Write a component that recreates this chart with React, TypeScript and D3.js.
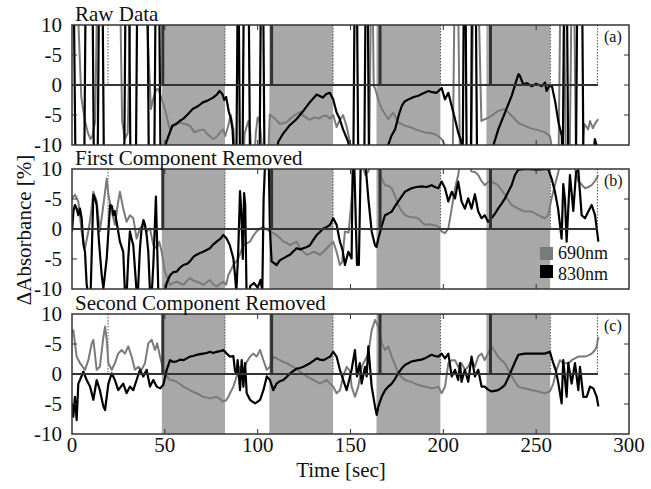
import React from "react";
import * as d3 from "d3";

type P = [number, number];

// Stimulation periods (sec)
const stimStarts = [48.4, 106.3, 164.0, 223.2];
const stimEnds = [82.4, 140.6, 198.4, 257.5];
const markerTimes = [48.9, 107.5, 165.9, 225.4];
const dottedTimes = [19.4, 82.4, 140.6, 198.5, 257.7, 283.0];
const zeroEnd = 283.3;

const yTickValues = [10, 5, 0, -5, -10];
const yTickLabels = ["10", "-5", "0", "-5", "-10"];
const xTickValues = [0, 50, 100, 150, 200, 250, 300];
const panelTitles = ["Raw Data", "First Component Removed", "Second Component Removed"];
const panelTags = ["(a)", "(b)", "(c)"];
const legendLabels = ["690nm", "830nm"];

// Panel (a) Raw data
const rawBlack830: P[] = [[0,14],[1.0,14],[1.9,-14],[6.6,-14],[7.3,14],[11.1,14],[11.8,-14],[13.8,-14],[14.5,14],[16.5,14],[17.2,-14],[28.1,-14],[28.8,14],[30.8,14],[31.5,-14],[34.4,-14],[35.1,14],[40.7,14],[41.4,-14],[44.3,-14],[45.0,14],[47.0,14],[47.7,-14],[49.5,-14],[50.7,-9.6],[52,-8.5],[54,-6.8],[56,-6.5],[58,-6.0],[60,-5.6],[62,-5.0],[65,-4.0],[68,-3.5],[70.5,-2.9],[73,-2.6],[76,-2.1],[78,-1.6],[79.5,-1.0],[81,-1.5],[82,-2.5],[83,-2.0],[84.5,-4.5],[85.5,-5.5],[86.5,-7.5],[87.5,-14],[88.5,-14],[89.2,14],[89.8,14],[90.5,-14],[91.8,-14],[92.5,14],[95.2,14],[95.9,-14],[101,-14],[101.7,14],[103,14],[103.7,-14],[110,-14],[111,-9.5],[113.5,-8.2],[117,-6.8],[120.9,-5.7],[124.6,-4.3],[128,-2.9],[131.8,-1.6],[135,-2.1],[137,-1.5],[138.9,-1.3],[140.7,-2.4],[142.5,-4.6],[144,-5.5],[146,-7.4],[148.8,-9.5],[150,-14],[151.5,-14],[152.2,14],[153.5,14],[154.2,-14],[157.4,-14],[158.1,14],[159.3,14],[160,-14],[169,-14],[170.3,-10],[172,-8.5],[174,-7.4],[176,-5],[177.6,-3.5],[179,-2.8],[181.2,-2.4],[184,-2.0],[186.6,-1.8],[189,-1.4],[192,-1.0],[194,-1.2],[196.4,-1.3],[199.1,-0.5],[200.9,-2.4],[202.7,-1.3],[204.5,-3.5],[206.3,-5.7],[208,-7.9],[209.8,-9.6],[210.4,-14],[211,14],[212,14],[212.6,-14],[214.8,-14],[215.4,14],[217.5,14],[218.2,-14],[226,-14],[227,-10],[229.6,-7.4],[233.2,-4.6],[236.8,-1.8],[239.5,0.9],[240.5,1.8],[241.3,1.5],[243,0.1],[245,0.3],[247.6,-0.2],[250,0.2],[253,-0.2],[254.8,0.4],[255.6,-1.0],[257,-0.2],[258.5,-0.2],[260.3,-2.9],[262,-6.2],[263.8,-8.5],[264.3,-14],[265,14],[266.6,14],[267.3,-14],[271.4,-14],[272.1,14],[274.8,14],[275.5,-14],[280,-14],[281.6,-9],[283,-10.5]];
const rawGrey690: P[] = [[0,14],[3,14],[5,-2],[7,-6],[8.6,-8],[10,-9],[11,-8.5],[12.5,-6],[13.5,14],[26,14],[27,-6],[28.5,-9],[30,-8],[31.5,14],[40,14],[42.5,-4],[44,-2],[45.5,-0.7],[46.5,-0.7],[48,-2],[50,-4],[52.7,-7.4],[55,-6.8],[58,-6.3],[61,-6.5],[63.5,-6.8],[66,-7.9],[68,-7.6],[70.7,-7.4],[73,-8.2],[76,-9.0],[78,-8.6],[80,-7.8],[81.5,-7.4],[82.5,-8.5],[84,-7],[85.5,-5],[87,-7.5],[88,-14],[92,-14],[93,-8],[95,-6],[96,-8],[97,-14],[98,-14],[99,-8],[100,-5.4],[101,-6],[102,-9],[103,-14],[105.5,-14],[106.5,-4.9],[108,-5.3],[110,-5.8],[112,-6.5],[115.6,-6.2],[118,-5.5],[120,-5.0],[122.8,-4.5],[125,-5.2],[128,-5.8],[130.6,-5.4],[133,-5.6],[135,-5.2],[137,-5.1],[139,-5.6],[140.7,-5.0],[142.5,-7],[144,-6],[146,-5],[148,-7],[150,-10],[151,-14],[158,-14],[160,-14],[161,14],[162,14],[162.5,-0.2],[163.2,-0.5],[165,-2.5],[166.8,-4],[168.5,-4.8],[170.3,-5.7],[173,-4.6],[175.7,-6.2],[179.3,-6.8],[182,-7.0],[184.8,-7.4],[187,-7.6],[190.2,-7.9],[193,-8.0],[195.6,-8.2],[197,-8.5],[199.1,-9.0],[200.5,-9.8],[201,-14],[205,-14],[206,14],[208,14],[209,-14],[215,-14],[216,14],[219,14],[220.5,-6],[222.3,-5.7],[224,-5.5],[226,-5.1],[229.6,-4.3],[233.2,-4.0],[235,-4.6],[236.8,-5.1],[240.4,-6.3],[244,-6.8],[247,-7.2],[249.3,-7.4],[252,-7.6],[254.7,-7.9],[257.4,-8.5],[258.5,-10.5],[259,-14],[262,-14],[263,14],[265,14],[266,-14],[268,-14],[269,14],[270.5,14],[271.5,-14],[274,-14],[276,-6.5],[278,-7.4],[279,-6],[280.5,-7.2],[282,-6.3],[283.4,-5.7]];

// Panel (b) First component removed
const firstBlack830: P[] = [[0,-0.4],[0.8,3],[1.6,4],[2.5,3.4],[3.4,2.3],[4.3,3.4],[5.2,1.8],[6.1,-2.5],[7,-3.8],[7.9,-9.3],[8.8,-11],[10,-11],[11.5,5.7],[12.5,5],[13.3,4],[14.5,-2],[16,-7.7],[16.9,-9.9],[18.7,-4.9],[20.5,4],[21.5,3.8],[22.3,2.3],[23,3.0],[24,1.2],[25.8,-2.1],[27.6,-3.8],[28.5,-10.5],[29.5,-10.5],[30.3,-4.9],[31.2,-0.4],[32,-1.5],[33,-2.7],[34.8,-10.5],[35.5,-10.5],[36.6,-3.2],[37.5,0.1],[38.5,1.5],[39.3,0.7],[40.2,-1],[41.1,-3.8],[42,-10.5],[43,-10.5],[43.8,-6],[45.2,5.4],[46.5,-10.5],[50,-10.5],[51,-9],[52.8,-7.7],[54.5,-7.2],[56.4,-7.1],[58,-6.5],[60,-6],[62,-5.8],[63.5,-5.4],[65.5,-4.6],[67.1,-4.3],[69,-4.0],[70.7,-3.8],[72.5,-3.5],[74.3,-3.2],[76,-2.6],[77.9,-2.1],[80,-1.6],[81.5,-1],[83.3,-1.6],[85,-2.7],[86.9,-4.9],[87.8,-7.7],[88.5,-10.5],[89.5,-4],[90.5,6.3],[91.2,3],[92,-5],[92.7,6],[93.3,4],[94,-10.5],[95.5,-10.5],[96,-9.5],[98,-9],[100,-9.8],[101.5,-8.5],[102.5,-10.2],[103.2,5],[104,11],[106,11],[106.6,0],[107.5,-5.4],[110.2,-6],[112,-5.2],[113.8,-4.9],[115.5,-4.6],[117.4,-4.3],[119,-3.8],[121,-3.2],[122.8,-3.4],[124.6,-3.2],[126.5,-3.0],[128.2,-2.7],[130,-1.8],[131.8,-1],[133.5,-0.5],[135.4,0.1],[137,0.3],[139,0.7],[140.7,1.8],[142.5,0.7],[144.3,-2.1],[145.7,-3.5],[147,-6],[148.8,-3.8],[150.6,-4.9],[151.2,11],[152,11],[153.5,-6],[154.5,-6],[155.5,11],[158,11],[159.6,5.1],[161.4,-0.4],[163.2,-2.7],[164,-3],[165,-1.6],[166.8,0.5],[168.6,2.3],[170.5,2.6],[172.2,2.9],[174,3.8],[175.7,4.6],[177.5,5.4],[179.3,6.2],[181,6.5],[182.9,6.8],[185.5,7.0],[188.3,7.1],[191,7.0],[193.7,7.3],[195.5,7.0],[197.3,6.8],[199.1,7.9],[200.9,6.8],[202.7,4.6],[204.5,6.2],[206.3,5.1],[208,7.9],[209.8,4.6],[211.6,3.4],[213.4,5.1],[215.2,3.4],[217,5.8],[218.8,2.9],[220.6,1.8],[222.3,2.3],[224.1,1.2],[225.9,1.8],[227.7,2.5],[229.5,3.4],[231.3,4.2],[233.2,5.1],[235,6.2],[236.8,7.3],[238.6,9],[240.4,9.9],[245,10],[250,9.9],[256.5,10],[258.3,8.4],[260.1,6.2],[261.8,3.4],[263.7,-1.6],[264.6,7.5],[265.5,5],[266.4,-2.1],[268.2,9],[270,3],[271.5,9.5],[272.7,9.8],[274.5,2.3],[276.3,1.8],[278.1,2.9],[279.9,4],[281.7,2.3],[283.5,-2.1]];
const firstGrey690: P[] = [[0,5.1],[1.6,5.7],[3.4,4.6],[5.2,-0.4],[7,-3.2],[8.8,-0.4],[10,2],[11.5,6.2],[13.3,4.6],[15,-0.4],[16.9,4],[18.7,8.4],[19.6,5.7],[21.4,2.9],[23.1,0.7],[24.9,4.6],[25.8,6.2],[27.6,3.4],[29.4,1.2],[31.2,2.3],[33,1.8],[34.8,-1.6],[36.6,0.1],[38.4,0.7],[40.2,-0.4],[42,0.1],[43.8,-2.7],[45.6,-3.2],[47,-2.1],[48.3,-3.8],[50,-7.1],[52.8,-9.3],[54.5,-9.0],[56.4,-8.8],[58,-9.0],[60,-9.3],[62,-8.6],[63.5,-8.2],[65.5,-8.6],[67.1,-8.8],[69,-9.0],[70.7,-9.3],[72.5,-8.9],[74.3,-8.5],[76,-9.2],[77.9,-9.6],[79.5,-9.2],[81.5,-8.8],[83,-9.3],[84.2,-7.7],[86.9,-6],[89.6,-4.9],[92.3,-2.7],[94,-2.4],[95.9,-2.1],[97.5,-1.2],[99.4,-0.4],[101.3,0.1],[103,0.3],[104.5,0],[106.6,-0.4],[108.4,-0.7],[110.2,-1],[112,-1.5],[113.8,-2.1],[115.6,-2.3],[117.4,-2.7],[119.2,-2.4],[121,-2.1],[122.8,-3.2],[124.6,-3.8],[126.4,-4.3],[128.2,-4.1],[130,-3.8],[131.8,-4.0],[133.6,-4.3],[135.4,-3.8],[137.2,-3.2],[139,-2.6],[140.7,-2.1],[142.5,-3.8],[144.3,-6],[145.5,-5.5],[147,-0.4],[149,-0.6],[150.6,5.1],[152,11],[156,11],[158,9],[159.6,9.6],[161,11],[165,11],[166.8,8.4],[168.6,7.3],[170.4,7.2],[172.2,6.8],[174,5.5],[175.7,4],[177.5,3.0],[179.3,2.3],[181,2.1],[182.9,2],[184.6,1.9],[186.4,1.8],[188.2,1.2],[190,0.7],[191.8,0.8],[193.7,0.7],[195.5,0.6],[197.3,0.4],[199.1,-0.4],[200.9,-0.7],[202.7,0.1],[204.5,3.4],[206.3,6.8],[208,9],[209,11],[213,11],[215.2,9.6],[217,9.5],[218.8,9],[220.5,8.0],[222.3,7.3],[224,7.8],[225.9,7.9],[227.7,7.6],[229.5,7.3],[231.3,6.5],[233.2,5.7],[235,4.8],[236.8,4],[238.6,3.7],[240.4,3.4],[242.2,3.1],[244,2.9],[245.8,2.9],[247.6,2.9],[249.4,2.6],[251.2,2.3],[253,2.0],[254.7,1.8],[256.5,2.3],[258.3,5.1],[260.1,7.3],[262,9.6],[263,11],[270,11],[272.7,7.9],[274.5,7.4],[276.3,6.8],[278.1,7.0],[279.9,7.3],[281.7,8.0],[283.5,9]];

// Panel (c) Second component removed
const secondBlack830: P[] = [[0,-4.9],[0.7,-7.1],[1.6,-3.8],[2.5,-7.7],[3.4,-1.6],[4.3,-1],[6.1,0.4],[7.9,-1],[9.7,-2.1],[11.5,-4.3],[13.3,-1],[15,-2.7],[16.9,-5.4],[17.8,-6],[19.6,-1.6],[21.4,0.1],[23.1,-1],[24.9,-2.7],[27.6,-1.6],[29.4,-3.2],[31.2,-2.1],[33,-2.7],[34.8,-1],[36.6,0.7],[38.4,-0.4],[40.2,0.7],[42,-2.1],[43.8,-1],[45.6,-2.1],[47.4,-2.4],[49.2,-1.8],[51,0.7],[52.8,2.3],[54.6,2.0],[56.4,2.1],[58.2,2.4],[60,2.3],[61.8,2.6],[63.5,2.9],[65.3,3.0],[67.1,3.2],[68.9,3.3],[70.7,3.4],[72.5,3.5],[74.3,3.7],[76.1,3.5],[77.9,3.7],[79.7,3.8],[81.5,4],[83.3,3.4],[85.1,2.9],[86.9,3.0],[87.8,0.5],[88.7,0.1],[89.2,2.3],[90.5,-2.7],[91.4,2.3],[92.3,-2.1],[93.2,1.8],[94.1,-3.2],[95.9,-4.3],[97.2,-4.6],[98.6,-4.9],[100,-4.6],[101.3,-4.3],[103.1,-2.7],[104.9,-0.4],[106.6,-1],[108.4,-2.7],[110.2,-1.6],[112,-1.2],[113.8,-1],[115.6,-0.5],[117.4,0.1],[119.2,0.5],[121,0.9],[122.8,1.0],[124.6,1.2],[126.4,1.5],[128.2,1.8],[130,2.2],[131.8,2.6],[133.6,2.4],[135.4,2.3],[137.2,2.6],[139,2.9],[140.7,3.7],[142.5,2.9],[144.3,0.7],[146.1,-1],[147.9,-2.7],[149.7,-0.5],[150.6,0.7],[152.4,4],[153.5,-0.4],[155,1.8],[156,-1.6],[157.8,1.2],[158.7,-0.4],[159.6,4.6],[161.4,-2.1],[163.2,-5.4],[164.1,-6.8],[165,-5.4],[166.8,-3.8],[168.6,-2.7],[170.4,-2.1],[172.2,-1.6],[174,-0.8],[175.7,0.1],[177.5,0.9],[179.3,1.5],[181.1,1.8],[182.9,2.1],[184.6,2.2],[186.4,2.3],[188.2,2.4],[190,2.6],[191.8,2.9],[193.7,3.2],[195.5,3.0],[197.3,2.9],[199.1,3.4],[200.9,2.6],[202.7,3.4],[204.5,-0.4],[206.3,0.7],[208,-1],[209,1.8],[209.8,-1.3],[211.6,0.7],[213.4,-1.3],[215.2,2.9],[217,-0.4],[218.8,0.7],[220.6,-2.1],[222.3,-2.1],[224.1,-2.6],[225.9,-2.9],[227.7,-2.8],[229.5,-2.7],[231.3,-2.3],[233.2,-1.8],[235,-0.6],[236.8,0.7],[238.6,2.0],[240.4,3.2],[242.2,3.3],[244,3.4],[247.6,3.4],[251.2,3.4],[254.7,3.4],[257.4,3.7],[259.2,1.8],[260.5,0.7],[262,-1.6],[263.7,-4.9],[264.6,2.3],[266.4,-3.8],[267.3,1.8],[269.1,-1.6],[270.9,1.8],[272.7,-2.7],[273.6,1.2],[275.4,-3.8],[277.2,-3.8],[279,-2.1],[280.8,-2.4],[282.6,-3.8],[283.5,-5.4]];
const secondGrey690: P[] = [[0,6.8],[0.7,7.3],[2.5,2.9],[4.3,1.8],[7,0.7],[8.8,2.3],[10.6,5.1],[11.5,5.7],[13.3,0.7],[15,1.2],[16.9,6.2],[17.8,7.9],[18.7,5.7],[19.6,1.8],[21.4,0.7],[23.1,1.8],[24.9,3.4],[26.7,4],[28.5,3.4],[30.3,4.6],[32.1,2.9],[33.9,0.7],[35.7,1.2],[37.5,0.7],[39.3,1.8],[41.1,5.1],[42.9,5.7],[44.7,4],[45.9,5.1],[47.4,2.9],[49.2,0.7],[51,-0.4],[52.8,-1],[54.6,-1.1],[56.4,-1.3],[58.2,-1.7],[60,-2.1],[61.8,-2.4],[63.5,-2.7],[65.3,-3.0],[67.1,-3.2],[68.9,-3.5],[70.7,-3.8],[72.5,-3.9],[74.3,-4.1],[76.1,-3.9],[77.9,-3.8],[79.7,-4.2],[81.5,-4.6],[83,-4.4],[84.2,-3.8],[86.9,-2.1],[88.7,-0.4],[90.5,1.2],[92.3,0.7],[94.1,2.0],[95.9,2.9],[97.6,3.4],[99.4,2.9],[101.3,4],[103.1,2.3],[104.9,0.7],[106.6,1.2],[108.4,2.9],[110.2,2.6],[112,2.3],[113.8,2.0],[115.6,1.8],[117.4,1.5],[119.2,1.2],[121,0.8],[122.8,0.4],[124.6,0],[126.4,-0.4],[128.2,-0.7],[130,-1],[131.8,-1.3],[133.6,-1.6],[135.4,-1.3],[137.2,-1],[139,-1.6],[140.7,-2.1],[142.5,-3.2],[144.3,-2.7],[146.1,-0.4],[147.9,1.2],[149.7,0.5],[150.6,-2.1],[152.4,-3.8],[154.2,-2.1],[156,1.2],[157.8,2.3],[159.6,3.4],[161.4,7.3],[163.2,9],[165,7.9],[166.8,5.1],[168.6,4],[170.3,4.6],[172.2,2.9],[174,1.5],[175.7,0.1],[177.5,-0.5],[179.3,-1],[181.1,-1.2],[182.9,-1.3],[184.6,-1.6],[186.4,-1.8],[188.2,-2.0],[190,-2.1],[191.8,-2.2],[193.7,-2.4],[195.5,-2.3],[197.3,-2.1],[199.1,-3.2],[200.9,-2.1],[202.7,1.8],[204.5,2.3],[206.3,2.3],[208,1.2],[209.8,1.8],[211.6,0.7],[213.4,1.2],[215.2,2.3],[217,1.2],[218.8,2.9],[220.6,3.4],[222.3,2.3],[224.1,3.5],[225.9,4.6],[227.7,3.8],[229.5,2.9],[231.3,2.3],[233.2,1.8],[235,0.7],[236.8,-0.4],[238.6,-1.3],[240.4,-2.1],[242.2,-2.3],[244,-2.4],[245.8,-2.5],[247.6,-2.7],[249.4,-2.8],[251.2,-2.9],[253,-3.1],[254.7,-3.2],[257.4,-2.9],[259.2,-1.6],[261,0.7],[262.8,2.3],[264.6,1.8],[266.4,1.8],[268.2,2.0],[269.1,2.3],[270.9,2.6],[272.7,2.9],[274.5,2.9],[276.3,2.9],[278.1,3.1],[279.9,3.4],[281.7,4.0],[282.6,4.6],[283.5,6.2]];

const panelSeries = [
  { grey: rawGrey690, black: rawBlack830 },
  { grey: firstGrey690, black: firstBlack830 },
  { grey: secondGrey690, black: secondBlack830 },
];

const W = 651, H = 489;
const left = 72, right = 629;
const panelTops = [25, 169, 314];
const panelH = 120;
const SHADE = "#a8a8a8";
const GREY_LINE = "#7a7a7a";
const DARK = "#333333";
const txt = { fontFamily: '"Liberation Serif"' };

export default function App() {
  const x = d3.scaleLinear().domain([0, 300]).range([left, right]);
  return (
    <svg width={W} height={H} style={{ position: "absolute", left: 0, top: 0, background: "#fff" }}>
      <defs>
        {panelTops.map((top, i) => (
          <clipPath id={`clip${i}`} key={i}>
            <rect x={left} y={top} width={right - left} height={panelH} />
          </clipPath>
        ))}
      </defs>
      {panelTops.map((top, i) => {
        const y = d3.scaleLinear().domain([-10, 10]).range([top + panelH, top]);
        const line = d3.line<P>().x((d) => x(d[0])).y((d) => y(d[1]));
        const s = panelSeries[i];
        return (
          <g key={i}>
            <g clipPath={`url(#clip${i})`}>
              {stimStarts.map((st, k) => (
                <rect key={k} x={x(st)} y={top} width={x(stimEnds[k]) - x(st)} height={panelH} fill={SHADE} />
              ))}
              {dottedTimes.map((t, k) => (
                <line key={k} x1={x(t)} x2={x(t)} y1={top} y2={y(0)} stroke="#555" strokeWidth={1} strokeDasharray="1.5,1.5" />
              ))}
              <path d={line(s.grey) || ""} fill="none" stroke={GREY_LINE} strokeWidth={2} strokeLinejoin="round" />
              <path d={line(s.black) || ""} fill="none" stroke="#000" strokeWidth={2.2} strokeLinejoin="round" />
              <line x1={left} x2={x(zeroEnd)} y1={y(0)} y2={y(0)} stroke={DARK} strokeWidth={2} />
              {markerTimes.map((t, k) => (
                <line key={k} x1={x(t)} x2={x(t)} y1={top} y2={y(0)} stroke={DARK} strokeWidth={3} />
              ))}
            </g>
            {yTickValues.slice(1, 4).map((v, k) => (
              <g key={k}>
                <line x1={left} x2={left + 5} y1={y(v)} y2={y(v)} stroke={DARK} strokeWidth={1} />
                <line x1={right - 5} x2={right} y1={y(v)} y2={y(v)} stroke={DARK} strokeWidth={1} />
              </g>
            ))}
            {xTickValues.slice(1, 6).map((v, k) => (
              <g key={k}>
                <line x1={x(v)} x2={x(v)} y1={top} y2={top + 5} stroke={DARK} strokeWidth={1} />
                <line x1={x(v)} x2={x(v)} y1={top + panelH - 5} y2={top + panelH} stroke={DARK} strokeWidth={1} />
              </g>
            ))}
            <rect x={left} y={top} width={right - left} height={panelH} fill="none" stroke={DARK} strokeWidth={1.5} />
            {yTickValues.map((v, k) => (
              <text key={k} x={62} y={y(v)} dy="0.35em" textAnchor="end" fontSize={21} fill="#111" style={txt}>
                {yTickLabels[k]}
              </text>
            ))}
            <text x={75} y={top - 4} fontSize={21} fill="#111" style={txt}>{panelTitles[i]}</text>
            <text x={604} y={top + 17} fontSize={16} fill="#111" style={txt}>{panelTags[i]}</text>
          </g>
        );
      })}
      <rect x={540} y={247} width={13} height={13} fill={GREY_LINE} />
      <rect x={540} y={265} width={13} height={13} fill="#000" />
      <text x={558} y={259} fontSize={18} fill="#111" style={txt}>{legendLabels[0]}</text>
      <text x={558} y={280} fontSize={18} fill="#111" style={txt}>{legendLabels[1]}</text>
      {xTickValues.map((v, k) => (
        <text key={k} x={x(v)} y={452} textAnchor="middle" fontSize={21} fill="#111" style={txt}>{v}</text>
      ))}
      <text x={341} y={477} textAnchor="middle" fontSize={21} fill="#111" style={txt}>Time [sec]</text>
      <text transform="translate(31,230) rotate(-90)" textAnchor="middle" fontSize={21} fill="#111" style={txt}>ΔAbsorbance [%]</text>
    </svg>
  );
}
